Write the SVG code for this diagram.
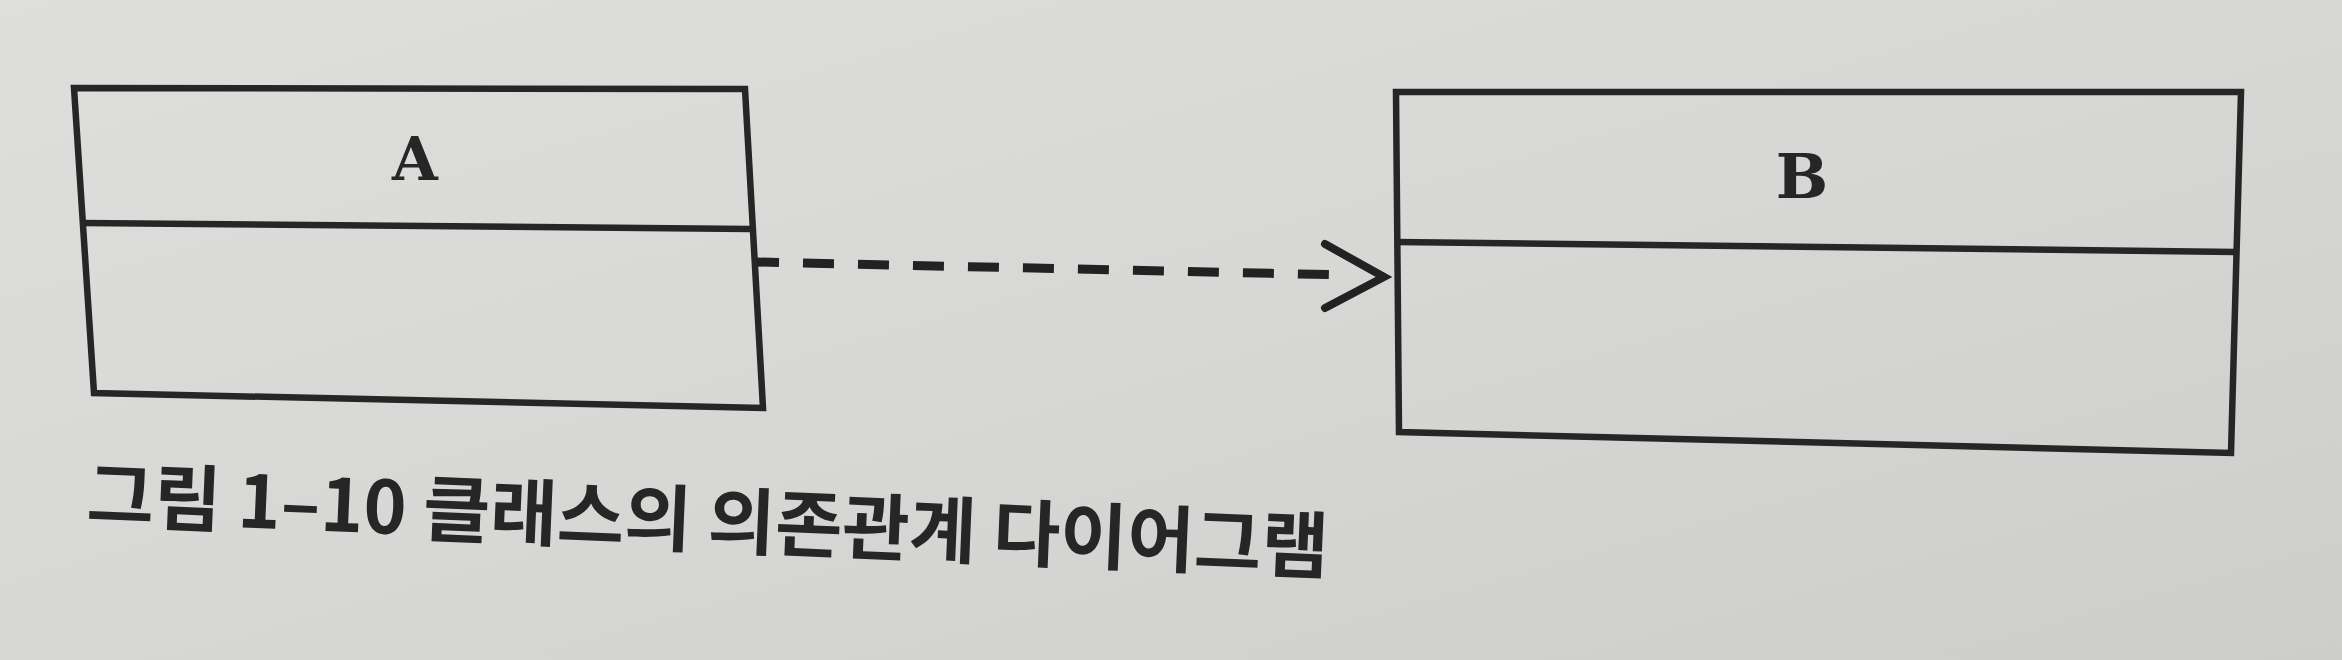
<svg xmlns="http://www.w3.org/2000/svg" width="2342" height="660" viewBox="0 0 2342 660">
<defs>
<linearGradient id="paper" x1="0" y1="0" x2="1" y2="1">
<stop offset="0" stop-color="#dededc"/>
<stop offset="0.5" stop-color="#d7d7d5"/>
<stop offset="1" stop-color="#cdcdcb"/>
</linearGradient>
<style>
.box{fill:none;stroke:#262626;stroke-width:6.5;stroke-linejoin:miter}
.div{fill:none;stroke:#262626;stroke-width:6.5}
.cls{font-family:"DejaVu Serif","Liberation Serif",serif;font-weight:bold;font-size:59px;fill:#262626;text-anchor:middle}
.dep{fill:none;stroke:#222;stroke-width:9;stroke-dasharray:31 24;stroke-dashoffset:9}
.head{fill:none;stroke:#222;stroke-width:8;stroke-linejoin:miter;stroke-linecap:round}
.cap{font-family:"Noto Sans CJK KR","Noto Sans",sans-serif;font-weight:bold;font-size:73px;fill:#262626}
</style>
</defs>
<rect x="0" y="0" width="2342" height="660" fill="url(#paper)"/>
<g id="nodeA">
<polygon class="box" points="74,88 745,89 763,408 94,393"/>
<line class="div" x1="82" y1="223" x2="750" y2="229"/>
<text class="cls" x="415" y="180">A</text>
</g>
<g id="nodeB">
<polygon class="box" points="1396,92 2241,92 2231,453 1399,432"/>
<line class="div" x1="1396" y1="242" x2="2236" y2="252"/>
<text class="cls" x="1802" y="198" style="font-size:62px">B</text>
</g>
<g id="connectors">
<line class="dep" x1="757" y1="262" x2="1346" y2="275"/>
<polyline class="head" points="1325,244 1384,277 1325,308"/>
</g>
<g id="caption">
<text class="cap" x="86" y="521" transform="rotate(2.4 86 521)">그림 1–10 클래스의 의존관계 다이어그램</text>
</g>
</svg>
